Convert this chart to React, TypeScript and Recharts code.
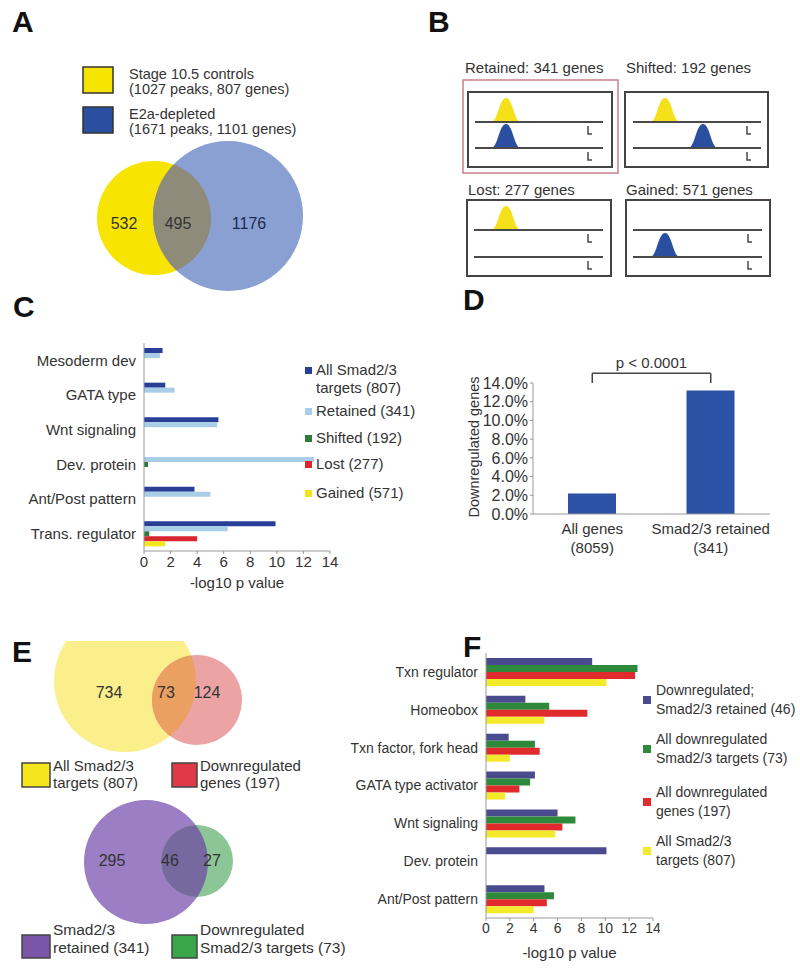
import React from 'react'
import { BarChart, Bar, XAxis, YAxis, ReferenceLine } from 'recharts'

const FONT = '"Liberation Sans", Arial, Helvetica, sans-serif'
const TEXT = '#333'
const AXIS = '#999'

// #region Data
// Panel A: peak overlap
const aLegend = [
  ['Stage 10.5 controls', '(1027 peaks, 807  genes)'],
  ['E2a-depleted', '(1671 peaks, 1101 genes)'],
]
const aCounts = [532, 495, 1176]

// Panel B: peak categories
const bTitles = ['Retained: 341 genes', 'Shifted: 192 genes', 'Lost: 277 genes', 'Gained: 571 genes']

// Panel C: GO enrichment by peak category
const cTerms = ['Mesoderm dev', 'GATA type', 'Wnt signaling', 'Dev. protein', 'Ant/Post pattern', 'Trans. regulator']
const cAllTargets = [1.4, 1.6, 5.6, 0, 3.8, 9.9]
const cRetained = [1.2, 2.3, 5.5, 12.8, 5.0, 6.3]
const cShifted = [0, 0, 0, 0.3, 0, 0.4]
const cLost = [0, 0, 0, 0, 0, 4.0]
const cGained = [0, 0, 0, 0, 0, 1.6]
const cSeries = [
  { key: 'all', lines: ['All Smad2/3', 'targets (807)'], color: '#283f97' },
  { key: 'retained', lines: ['Retained (341)'], color: '#a8cde6' },
  { key: 'shifted', lines: ['Shifted (192)'], color: '#2f7a3a' },
  { key: 'lost', lines: ['Lost (277)'], color: '#d9252e' },
  { key: 'gained', lines: ['Gained (571)'], color: '#f3e51c' },
]
const log10Ticks = [0, 2, 4, 6, 8, 10, 12, 14]

// Panel D: fraction downregulated
const dGroups = ['All genes', 'Smad2/3 retained']
const dGroupSizes = ['(8059)', '(341)']
const dDownregulated = [2.2, 13.2]
const dTicks = [0, 2, 4, 6, 8, 10, 12, 14]

// Panel E: overlaps
const eTopCounts = [734, 73, 124]
const eTopLegend = [['All Smad2/3', 'targets (807)'], ['Downregulated', 'genes (197)']]
const eBottomCounts = [295, 46, 27]
const eBottomLegend = [['Smad2/3', 'retained (341)'], ['Downregulated', 'Smad2/3 targets (73)']]

// Panel F: GO enrichment of downregulated genes
const fTerms = ['Txn regulator', 'Homeobox', 'Txn factor, fork head', 'GATA type activator', 'Wnt signaling', 'Dev. protein', 'Ant/Post pattern']
const fDownRetained = [8.9, 3.3, 1.9, 4.1, 6.0, 10.1, 4.9]
const fDownTargets = [12.7, 5.3, 4.1, 3.7, 7.5, 0, 5.7]
const fDownGenes = [12.5, 8.5, 4.5, 2.8, 6.4, 0, 5.1]
const fAllTargets = [10.1, 4.9, 2.0, 1.6, 5.8, 0, 4.0]
const fSeries = [
  { key: 'downRetained', lines: ['Downregulated;', 'Smad2/3 retained (46)'], color: '#4a4a8e' },
  { key: 'downTargets', lines: ['All downregulated', 'Smad2/3 targets (73)'], color: '#2e8a3a' },
  { key: 'downGenes', lines: ['All downregulated', 'genes (197)'], color: '#e02a2c' },
  { key: 'allTargets', lines: ['All Smad2/3', 'targets (807)'], color: '#f4ea2c' },
]
// #endregion

const cData = cTerms.map((term, i) => ({
  term,
  all: cAllTargets[i],
  retained: cRetained[i],
  shifted: cShifted[i],
  lost: cLost[i],
  gained: cGained[i],
}))

const dData = dGroups.map((group, i) => ({ group, down: dDownregulated[i] }))

const fData = fTerms.map((term, i) => ({
  term,
  downRetained: fDownRetained[i],
  downTargets: fDownTargets[i],
  downGenes: fDownGenes[i],
  allTargets: fAllTargets[i],
}))

const txt = { fontFamily: FONT, fill: TEXT }

// two-line category tick for panel D
const DTick = (props: any) => {
  const { x, y, payload } = props
  const i = dGroups.indexOf(payload.value)
  return (
    <text x={x} y={y + 12} textAnchor="middle" fontSize={15} {...txt}>
      <tspan x={x}>{payload.value}</tspan>
      <tspan x={x} dy={19}>{dGroupSizes[i]}</tspan>
    </text>
  )
}

// a small peak sitting on a line
const Peak = ({ cx, base, color }: { cx: number; base: number; color: string }) => (
  <path
    d={`M${cx - 15},${base} C${cx - 8},${base} ${cx - 7},${base - 24} ${cx},${base - 24} C${cx + 7},${base - 24} ${cx + 8},${base} ${cx + 15},${base} Z`}
    fill={color}
  />
)

// gene track with TSS hook
const Track = ({ x1, x2, y, tss }: { x1: number; x2: number; y: number; tss: number }) => (
  <g stroke="#4a4a4a" fill="none">
    <line x1={x1} x2={x2} y1={y} y2={y} strokeWidth={2} />
    <path d={`M${tss},${y + 4} v8 h4`} strokeWidth={1.5} />
  </g>
)

const Letter = ({ x, y, children }: { x: number; y: number; children: string }) => (
  <text x={x} y={y} fontSize={30} fontWeight="bold" fontFamily={FONT} fill="#111">
    {children}
  </text>
)

const LegendLines = ({ x, y, lines, size, gap }: { x: number; y: number; lines: string[]; size: number; gap: number }) => (
  <text x={x} y={y} fontSize={size} {...txt}>
    {lines.map((l, i) => (
      <tspan key={i} x={x} dy={i === 0 ? 0 : gap}>
        {l}
      </tspan>
    ))}
  </text>
)

const YELLOW_PEAK = '#f5e11a'
const BLUE_PEAK = '#2a4ea0'

export default function App() {
  return (
    <div style={{ position: 'absolute', left: 0, top: 0, width: 800, height: 976, background: '#fff', overflow: 'hidden' }}>
      {/* C */}
      <div style={{ position: 'absolute', left: 0, top: 330 }}>
        <BarChart width={340} height={262} data={cData} layout="vertical" margin={{ top: 13, right: 10, bottom: 0, left: 0 }} barGap={0} barSize={5}>
          <XAxis
            type="number"
            domain={[0, 14]}
            ticks={log10Ticks}
            interval={0}
            height={41}
            stroke={AXIS}
            tickSize={3}
            tick={{ fontSize: 15, fill: TEXT, fontFamily: FONT }}
            label={{ value: '-log10 p value', position: 'insideBottom', offset: 4, fontSize: 15, fill: TEXT, fontFamily: FONT }}
          />
          <YAxis type="category" dataKey="term" width={144} stroke={AXIS} tickLine={false} interval={0} tick={{ fontSize: 15, fill: TEXT, fontFamily: FONT }} />
          {cSeries.map((s) => (
            <Bar key={s.key} dataKey={s.key} fill={s.color} isAnimationActive={false} />
          ))}
        </BarChart>
      </div>

      {/* D */}
      <div style={{ position: 'absolute', left: 440, top: 340 }}>
        <BarChart width={340} height={230} data={dData} margin={{ top: 43, right: 10, bottom: 0, left: 0 }} barSize={48}>
          <XAxis dataKey="group" height={56} stroke={AXIS} tickLine={false} interval={0} tick={<DTick />} />
          <YAxis
            type="number"
            domain={[0, 14]}
            ticks={dTicks}
            interval={0}
            width={93}
            stroke={AXIS}
            tickSize={3}
            tickFormatter={(v: number) => `${v.toFixed(1)}%`}
            tick={{ fontSize: 16, fill: TEXT, fontFamily: FONT }}
          />
          <Bar dataKey="down" fill="#2c52a5" isAnimationActive={false} />
          <ReferenceLine
            segment={[{ x: dGroups[0], y: 15.05 }, { x: dGroups[1], y: 15.05 }]}
            ifOverflow="visible"
            stroke="#444"
            strokeWidth={1.5}
            label={{ value: 'p < 0.0001', position: 'top', fontSize: 15, fill: TEXT, fontFamily: FONT }}
          />
          <ReferenceLine segment={[{ x: dGroups[0], y: 15.05 }, { x: dGroups[0], y: 14 }]} ifOverflow="visible" stroke="#444" strokeWidth={1.5} />
          <ReferenceLine segment={[{ x: dGroups[1], y: 15.05 }, { x: dGroups[1], y: 14 }]} ifOverflow="visible" stroke="#444" strokeWidth={1.5} />
        </BarChart>
      </div>

      {/* F */}
      <div style={{ position: 'absolute', left: 300, top: 640 }}>
        <BarChart width={360} height={330} data={fData} layout="vertical" margin={{ top: 13, right: 7, bottom: 0, left: 0 }} barGap={0} barSize={7}>
          <XAxis
            type="number"
            domain={[0, 14]}
            ticks={log10Ticks}
            interval={0}
            height={52}
            stroke={AXIS}
            tickSize={3}
            tick={{ fontSize: 14, fill: TEXT, fontFamily: FONT }}
            label={{ value: '-log10 p value', position: 'insideBottom', offset: 12, fontSize: 15, fill: TEXT, fontFamily: FONT }}
          />
          <YAxis type="category" dataKey="term" width={186} stroke={AXIS} tickLine={false} interval={0} tick={{ fontSize: 14, fill: TEXT, fontFamily: FONT }} />
          {fSeries.map((s) => (
            <Bar key={s.key} dataKey={s.key} fill={s.color} isAnimationActive={false} />
          ))}
        </BarChart>
      </div>

      <svg width={800} height={976} style={{ position: 'absolute', left: 0, top: 0, pointerEvents: 'none' }}>
        <defs>
          <clipPath id="clipA">
            <circle cx={154} cy={218} r={57} />
          </clipPath>
          <clipPath id="clipETop">
            <circle cx={125} cy={681} r={71} />
          </clipPath>
          <clipPath id="clipEPanel">
            <rect x={0} y={641} width={400} height={335} />
          </clipPath>
          <clipPath id="clipEBottom">
            <circle cx={146} cy={862} r={62} />
          </clipPath>
        </defs>

        {/* panel letters */}
        <Letter x={12} y={32}>A</Letter>
        <Letter x={428} y={32}>B</Letter>
        <Letter x={13} y={317}>C</Letter>
        <Letter x={463} y={310}>D</Letter>
        <Letter x={12} y={662}>E</Letter>
        <Letter x={463} y={657}>F</Letter>

        {/* A legend */}
        <rect x={83} y={67} width={30} height={26} fill="#f5e400" stroke="#333" strokeWidth={1.5} />
        <rect x={83} y={107} width={30} height={26} fill="#2b4fa0" stroke="#333" strokeWidth={1.5} />
        <LegendLines x={129} y={79} lines={aLegend[0]} size={14.5} gap={15} />
        <LegendLines x={129} y={119} lines={aLegend[1]} size={14.5} gap={15} />

        {/* A venn */}
        <circle cx={154} cy={218} r={57} fill="#f7e400" />
        <circle cx={228} cy={216} r={75} fill="#8aa0d2" />
        <circle cx={228} cy={216} r={75} fill="#8e8b7b" clipPath="url(#clipA)" />
        <text x={124} y={229} textAnchor="middle" fontSize={16} {...txt}>{aCounts[0]}</text>
        <text x={178} y={229} textAnchor="middle" fontSize={16} {...txt}>{aCounts[1]}</text>
        <text x={249} y={229} textAnchor="middle" fontSize={16} fontFamily={FONT} fill="#1d2b55">{aCounts[2]}</text>

        {/* B schematic */}
        <text x={465} y={73} fontSize={15} {...txt}>{bTitles[0]}</text>
        <text x={626} y={73} fontSize={15} {...txt}>{bTitles[1]}</text>
        <text x={468} y={195} fontSize={15} {...txt}>{bTitles[2]}</text>
        <text x={626} y={195} fontSize={15} {...txt}>{bTitles[3]}</text>
        <rect x={463} y={80} width={155} height={93} fill="none" stroke="#c9808c" strokeWidth={1.5} />
        <rect x={468} y={92} width={144} height={75} fill="none" stroke="#444" strokeWidth={2} />
        <rect x={625} y={92} width={143} height={75} fill="none" stroke="#444" strokeWidth={2} />
        <rect x={467} y={200} width={144} height={76} fill="none" stroke="#444" strokeWidth={2} />
        <rect x={626} y={200} width={144} height={76} fill="none" stroke="#444" strokeWidth={2} />
        {/* retained */}
        <Peak cx={506} base={122} color={YELLOW_PEAK} />
        <Peak cx={506} base={148} color={BLUE_PEAK} />
        <Track x1={475} x2={603} y={122} tss={588} />
        <Track x1={475} x2={603} y={148} tss={588} />
        {/* shifted */}
        <Peak cx={665} base={122} color={YELLOW_PEAK} />
        <Peak cx={703} base={148} color={BLUE_PEAK} />
        <Track x1={633} x2={761} y={122} tss={747} />
        <Track x1={633} x2={761} y={148} tss={747} />
        {/* lost */}
        <Peak cx={506} base={230} color={YELLOW_PEAK} />
        <Track x1={474} x2={603} y={230} tss={588} />
        <Track x1={474} x2={603} y={257} tss={588} />
        {/* gained */}
        <Peak cx={665} base={257} color={BLUE_PEAK} />
        <Track x1={633} x2={762} y={230} tss={748} />
        <Track x1={633} x2={762} y={257} tss={748} />

        {/* C legend */}
        {cSeries.map((s, i) => {
          const ys = [370, 411, 438, 464, 493]
          return (
            <g key={s.key}>
              <rect x={305} y={ys[i] - 3} width={7} height={7} fill={s.color} />
              <LegendLines x={316} y={ys[i] + 5} lines={s.lines} size={15} gap={18} />
            </g>
          )
        })}

        {/* D y label */}
        <text transform="translate(479,447) rotate(-90)" textAnchor="middle" fontSize={14.5} {...txt}>
          Downregulated genes
        </text>

        {/* E top venn (cropped at the panel top as in the figure) */}
        <g clipPath="url(#clipEPanel)">
          <circle cx={125} cy={681} r={71} fill="#fbef8c" />
          <circle cx={197} cy={700} r={45} fill="#eca3a3" />
          <circle cx={197} cy={700} r={45} fill="#eaa060" clipPath="url(#clipETop)" />
        </g>
        <text x={109} y={698} textAnchor="middle" fontSize={16} {...txt}>{eTopCounts[0]}</text>
        <text x={166} y={698} textAnchor="middle" fontSize={16} {...txt}>{eTopCounts[1]}</text>
        <text x={207} y={698} textAnchor="middle" fontSize={16} {...txt}>{eTopCounts[2]}</text>
        <rect x={22} y={763} width={28} height={24} fill="#f5e51c" stroke="#444" strokeWidth={1.5} />
        <rect x={172} y={763} width={25} height={24} fill="#e03a48" stroke="#444" strokeWidth={1.5} />
        <LegendLines x={53} y={771} lines={eTopLegend[0]} size={15} gap={17} />
        <LegendLines x={200} y={771} lines={eTopLegend[1]} size={15} gap={17} />

        {/* E bottom venn */}
        <circle cx={146} cy={862} r={62} fill="#9b7ec3" />
        <circle cx={197} cy={861} r={36} fill="#8cc596" />
        <circle cx={197} cy={861} r={36} fill="#76699f" clipPath="url(#clipEBottom)" />
        <text x={112} y={866} textAnchor="middle" fontSize={16} {...txt}>{eBottomCounts[0]}</text>
        <text x={170} y={866} textAnchor="middle" fontSize={16} {...txt}>{eBottomCounts[1]}</text>
        <text x={212} y={866} textAnchor="middle" fontSize={16} {...txt}>{eBottomCounts[2]}</text>
        <rect x={22} y={935} width={28} height={23} fill="#7b55a8" stroke="#444" strokeWidth={1.5} />
        <rect x={172} y={935} width={25} height={23} fill="#3aa64a" stroke="#444" strokeWidth={1.5} />
        <LegendLines x={53} y={935} lines={eBottomLegend[0]} size={15.5} gap={18} />
        <LegendLines x={200} y={935} lines={eBottomLegend[1]} size={15.5} gap={18} />

        {/* F legend */}
        {fSeries.map((s, i) => {
          const ys = [700, 749, 802, 851]
          return (
            <g key={s.key}>
              <rect x={643} y={ys[i] - 4} width={8} height={8} fill={s.color} />
              <LegendLines x={656} y={ys[i] - 5} lines={s.lines} size={14} gap={19} />
            </g>
          )
        })}
      </svg>
    </div>
  )
}
